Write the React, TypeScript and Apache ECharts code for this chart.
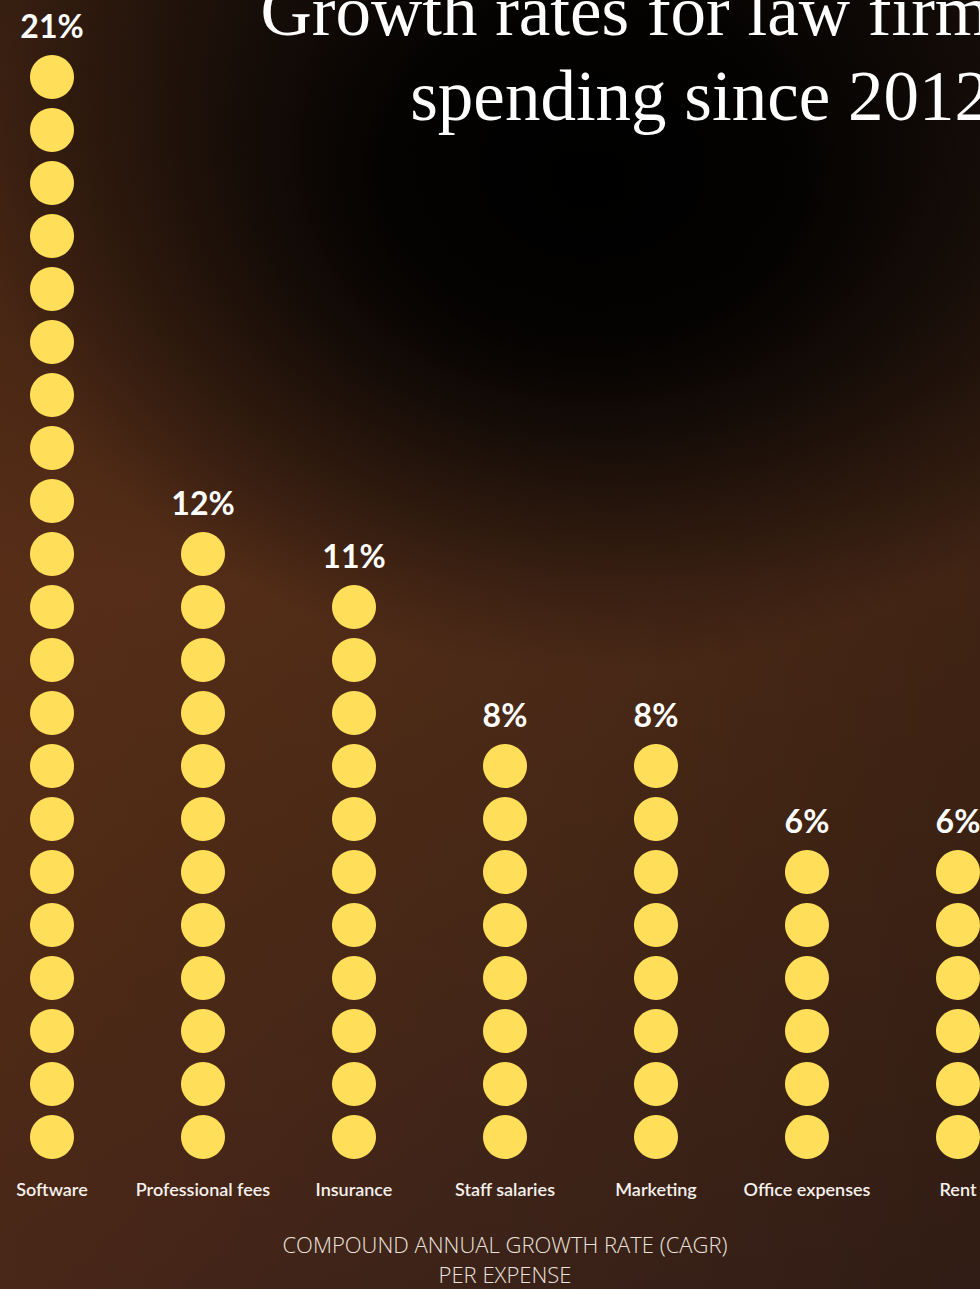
import React, { useEffect, useRef } from "react";
import * as echarts from "echarts";

const categories = ["Software", "Professional fees", "Insurance", "Staff salaries", "Marketing", "Office expenses", "Rent"];
const growthRates = [21, 12, 11, 8, 8, 6, 6];
const titleLines = ["Growth rates for law firm", "spending since 2012"];
const axisTitle = "COMPOUND ANNUAL GROWTH RATE (CAGR)\nPER EXPENSE";

export default function App() {
  const ref = useRef<HTMLDivElement>(null);

  useEffect(() => {
    if (!ref.current) return;
    const chart = echarts.init(ref.current, null, { renderer: "svg" });
    chart.setOption({
      animation: false,
      backgroundColor: "transparent",
      grid: {
        left: 52,
        right: 22,
        top: 50.5,
        bottom: 125.5,
        containLabel: false,
        outerBoundsMode: "none",
      },
      xAxis: {
        type: "category",
        data: categories,
        boundaryGap: false,
        axisLine: { show: false },
        axisTick: { show: false },
        splitLine: { show: false },
        axisLabel: {
          color: "#f6f1ec",
          fontFamily: "Lato",
          fontSize: 18,
          fontWeight: 600,
          margin: 16,
          interval: 0,
        },
        name: axisTitle,
        nameLocation: "middle",
        nameGap: 65.5,
        nameTextStyle: {
          color: "#ece4dd",
          fontFamily: "Open Sans",
          fontWeight: 300,
          fontSize: 22,
          lineHeight: 30,
          verticalAlign: "top",
        },
      },
      yAxis: {
        type: "value",
        min: 0,
        max: 21,
        show: false,
        splitLine: { show: false },
      },
      series: [
        {
          type: "pictorialBar",
          data: growthRates,
          symbol: "circle",
          symbolSize: [44, 44],
          symbolRepeat: true,
          symbolMargin: "4.5!",
          itemStyle: { color: "#ffdf5a" },
          label: {
            show: true,
            position: "top",
            distance: 10,
            formatter: "{c}%",
            color: "#ffffff",
            fontFamily: "Lato",
            fontWeight: "bold",
            fontSize: 32,
            lineHeight: 30,
          },
        },
      ],
      graphic: [
        {
          type: "text",
          right: -10,
          top: -25,
          style: {
            text: titleLines[0],
            fill: "#ffffff",
            font: "71px 'Liberation Serif', serif",
            textAlign: "right",
          },
        },
        {
          type: "text",
          right: -10,
          top: 60,
          style: {
            text: titleLines[1],
            fill: "#ffffff",
            font: "71px 'Liberation Serif', serif",
            textAlign: "right",
          },
        },
      ],
    });
    return () => chart.dispose();
  }, []);

  return (
    <div
      ref={ref}
      style={{
        position: "absolute",
        left: 0,
        top: 0,
        width: 980,
        height: 1289,
        overflow: "hidden",
        background:
          "radial-gradient(ellipse 62% 38% at 60% 14%, rgba(0,0,0,1) 0%, rgba(0,0,0,0.9) 35%, rgba(0,0,0,0) 100%), " +
          "linear-gradient(to right, rgba(120,55,20,0.22) 0%, rgba(0,0,0,0) 50%, rgba(0,0,0,0.18) 100%), " +
          "linear-gradient(to bottom, #24170f 0%, #4e2b18 45%, #472816 65%, #3b2219 100%)",
      }}
    />
  );
}
